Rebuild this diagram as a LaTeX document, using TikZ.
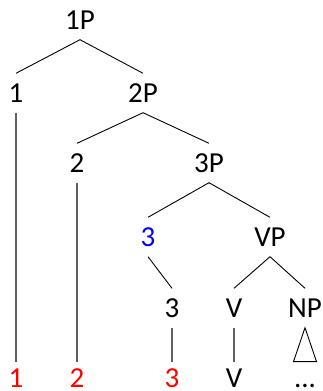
\documentclass[tikz,border=0pt]{standalone}
\usepackage{fontspec}
\setmainfont{Carlito}
\usetikzlibrary{positioning}
\definecolor{cRed}{RGB}{255,0,0}
\definecolor{cBlue}{RGB}{0,0,255}
\definecolor{cTrace}{RGB}{96,96,96}
\tikzset{
	lbl/.style   ={inner sep=0pt, text height=18pt, text depth=0pt, minimum height=39pt, font=\fontsize{29}{32}\selectfont},
	leaf/.style  ={inner sep=0pt, text height=28pt, text depth=0pt, anchor=south, font=\fontsize{29}{32}\selectfont},
	branch/.style={line width=0.9pt, black},
	trace/.style ={line width=1.3pt, cTrace},
	roof/.style  ={line width=0.9pt, black, line join=miter},
}

\begin{document}
\begin{tikzpicture}[x=1pt, y=-1pt]
	\useasboundingbox (0,0) rectangle (323,391);
	% tree
	\node[lbl] (p1) at (80,20) {1P};
	\node[lbl] (h1) at (16,93) {1};
	\node[lbl] (p2) at (143,93) {2P};
	\node[lbl] (h2) at (77,163) {2};
	\node[lbl] (p3) at (209,163) {3P};
	\node[lbl, text=cBlue] (h3) at (148,237) {3};
	\node[lbl] (vp) at (270,237) {VP};
	\node[lbl] (t3) at (172,308) {3};
	\node[lbl] (v) at (234,308) {V};
	\node[lbl] (np) at (305,308) {NP};
	% bottom row
	\node[leaf, text=cRed] (b1) at (16,388) {1};
	\node[leaf, text=cRed] (b2) at (77,388) {2};
	\node[leaf, text=cRed] (b3) at (172,388) {3};
	\node[leaf] (bv) at (234,388) {V};
	\node[leaf] (bnp) at (305,388) {...};
	\draw[branch] (h1.north) -- (p1.south) -- (p2.north);
	\draw[branch] (h2.north) -- (p2.south) -- (p3.north);
	\draw[branch] (h3.north) -- (p3.south) -- (vp.north);
	\draw[branch] (v.north) -- (vp.south) -- (np.north);
	\draw[branch] (h3.south) -- (t3.north);
	\draw[roof] (np.south) -- ([xshift=-11.5pt, yshift=-2pt]bnp.north) -- ([xshift=11.5pt, yshift=-2pt]bnp.north) -- cycle;
	\draw[trace] (h1.south) -- ([yshift=-2pt]b1.north);
	\draw[trace] (h2.south) -- ([yshift=-2pt]b2.north);
	\draw[trace] (t3.south) -- ([yshift=-2pt]b3.north);
	\draw[trace] (v.south) -- ([yshift=-2pt]bv.north);
\end{tikzpicture}
\end{document}
